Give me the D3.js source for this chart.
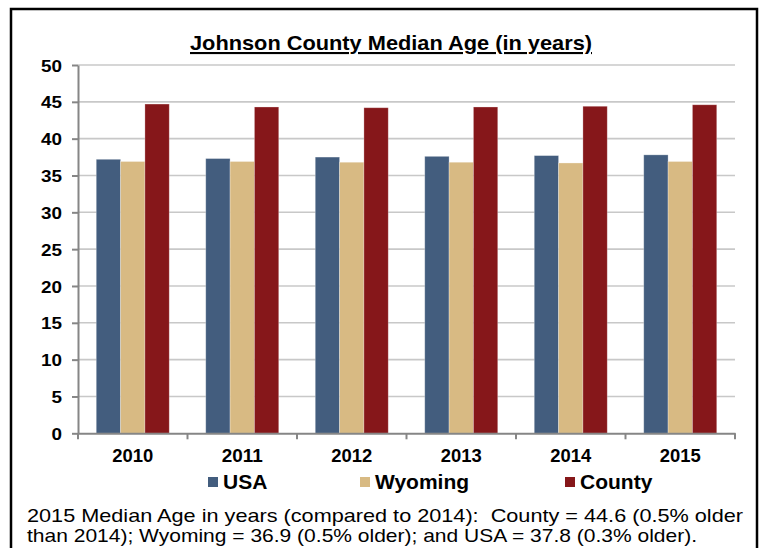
<!DOCTYPE html>
<html>
<head>
<meta charset="utf-8">
<script src="https://cdn.jsdelivr.net/npm/d3@7"></script>
<style>
  html, body { margin: 0; padding: 0; background: #fff; }
  svg { display: block; font-family: "Liberation Sans", Arial, sans-serif; }
</style>
</head>
<body>
<svg id="chart" width="764" height="548"></svg>
<script>
// Median age by year for the nation, the state and the county
const years = ["2010", "2011", "2012", "2013", "2014", "2015"];
const seriesNames = ["USA", "Wyoming", "County"];
const usaValues = [37.2, 37.3, 37.5, 37.6, 37.7, 37.8];
const wyomingValues = [36.9, 36.9, 36.8, 36.8, 36.7, 36.9];
const countyValues = [44.7, 44.3, 44.2, 44.3, 44.4, 44.6];
const yTicks = [0, 5, 10, 15, 20, 25, 30, 35, 40, 45, 50];
const seriesColors = ["#435d7e", "#d8ba83", "#86171a"];
const titleText = "Johnson County Median Age (in years)";
const noteLines = [
  "2015 Median Age in years (compared to 2014):  County = 44.6 (0.5% older",
  "than 2014); Wyoming = 36.9 (0.5% older); and USA = 37.8 (0.3% older)."
];

const seriesValues = [usaValues, wyomingValues, countyValues];
const svg = d3.select("#chart");

// outer frame
svg.append("rect")
  .attr("x", 11).attr("y", 9)
  .attr("width", 746).attr("height", 560)
  .attr("fill", "none").attr("stroke", "#000").attr("stroke-width", 2.5);

const plot = { left: 78, right: 735, top: 65, bottom: 433.3 };

const x0 = d3.scaleBand().domain(years).range([plot.left, plot.right]).padding(0);
const x1 = d3.scaleBand().domain(seriesNames).range([0, x0.bandwidth()])
  .paddingInner(0).paddingOuter(0.75);
const y = d3.scaleLinear().domain([0, 50]).range([plot.bottom, plot.top]);
const color = d3.scaleOrdinal().domain(seriesNames).range(seriesColors);

// title
svg.append("text")
  .attr("x", 391).attr("y", 50)
  .attr("text-anchor", "middle")
  .attr("font-size", 21).attr("font-weight", "bold")
  .attr("fill", "#000")
  .attr("text-decoration", "underline")
  .attr("textLength", 402)
  .attr("lengthAdjust", "spacingAndGlyphs")
  .text(titleText);

// horizontal gridlines
svg.append("g")
  .selectAll("line")
  .data(yTicks.filter(t => t > 0))
  .join("line")
  .attr("x1", plot.left).attr("x2", plot.right)
  .attr("y1", d => y(d)).attr("y2", d => y(d))
  .attr("stroke", "#c8c8c8").attr("stroke-width", 1.6);

// bars
const rows = years.map((yr, i) => ({
  year: yr,
  values: seriesNames.map((s, j) => ({ key: s, value: seriesValues[j][i] }))
}));

svg.append("g")
  .selectAll("g")
  .data(rows)
  .join("g")
  .attr("transform", d => `translate(${x0(d.year)},0)`)
  .selectAll("rect")
  .data(d => d.values)
  .join("rect")
  .attr("x", d => x1(d.key))
  .attr("y", d => y(d.value))
  .attr("width", x1.bandwidth())
  .attr("height", d => y(0) - y(d.value))
  .attr("fill", d => color(d.key))
  .attr("stroke", "rgba(255,255,255,0.35)")
  .attr("stroke-width", 0.8);

// y axis
const yAxis = svg.append("g")
  .attr("transform", `translate(${plot.left},0)`)
  .call(d3.axisLeft(y).tickValues(yTicks).tickSize(6).tickPadding(10).tickSizeOuter(0));
yAxis.select(".domain").attr("stroke", "#868686").attr("stroke-width", 2);
yAxis.selectAll(".tick line").attr("stroke", "#868686").attr("stroke-width", 2);
yAxis.selectAll(".tick text")
  .attr("font-family", "Liberation Sans, Arial, sans-serif")
  .attr("font-size", 17).attr("font-weight", "bold").attr("fill", "#000")
  .attr("textLength", d => d >= 10 ? 21 : 10.5)
  .attr("lengthAdjust", "spacingAndGlyphs")
  .attr("dy", "0.36em");

// x axis with ticks between categories
const xAxis = svg.append("g")
  .attr("transform", `translate(0,${plot.bottom})`)
  .call(d3.axisBottom(x0).tickSize(0).tickPadding(16));
xAxis.select(".domain").attr("stroke", "#868686").attr("stroke-width", 2);
xAxis.selectAll(".tick text")
  .attr("font-family", "Liberation Sans, Arial, sans-serif")
  .attr("font-size", 17.5).attr("font-weight", "bold").attr("fill", "#000")
  .attr("textLength", 41)
  .attr("lengthAdjust", "spacingAndGlyphs");
const boundaries = years.map(yr => x0(yr)).concat([x0(years[years.length - 1]) + x0.bandwidth()]);
xAxis.selectAll("line.sep")
  .data(boundaries)
  .join("line")
  .attr("class", "sep")
  .attr("x1", d => d).attr("x2", d => d)
  .attr("y1", 0).attr("y2", 6)
  .attr("stroke", "#868686").attr("stroke-width", 2);

// legend
const legendX = [208, 360, 565];
const legend = svg.append("g")
  .selectAll("g")
  .data(seriesNames)
  .join("g")
  .attr("transform", (d, i) => `translate(${legendX[i]},477)`);
legend.append("rect")
  .attr("width", 10).attr("height", 10)
  .attr("fill", d => color(d));
legend.append("text")
  .attr("x", 15).attr("y", 11.5)
  .attr("font-size", 21).attr("font-weight", "bold").attr("fill", "#000")
  .text(d => d);

// note below the chart
const noteWidths = [716, 670];
svg.append("g")
  .selectAll("text")
  .data(noteLines)
  .join("text")
  .attr("x", 27)
  .attr("y", (d, i) => 522 + i * 20)
  .attr("font-size", 19).attr("fill", "#000")
  .style("white-space", "pre")
  .attr("textLength", (d, i) => noteWidths[i])
  .attr("lengthAdjust", "spacingAndGlyphs")
  .text(d => d);
</script>
</body>
</html>
